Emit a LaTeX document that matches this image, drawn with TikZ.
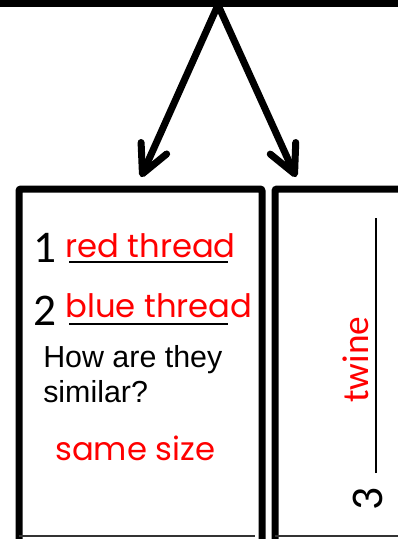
\documentclass[tikz,border=0pt]{standalone}
\usepackage{fontspec}
\usetikzlibrary{arrows.meta}
\newfontfamily\comicf{Poppins}
\newfontfamily\arialf{Liberation Sans}
\newfontfamily\calf{Carlito}
\definecolor{penred}{RGB}{255,0,0}
\tikzset{
  thickline/.style={line width=5.25pt, line cap=round, line join=round},
  arrowline/.style={thickline, -{Straight Barb[length=21pt,width=21pt,round]}},
  panel/.style={draw, line width=5.25pt, rounded corners=1.5pt, inner sep=0pt, anchor=north west, minimum height=300pt},
  digit/.style={font=\calf\fontsize{34}{40}\selectfont, inner sep=0pt, anchor=base west},
  answer/.style={font=\comicf\fontsize{24.2}{28}\selectfont, text=penred, inner sep=0pt, anchor=base west},
  question/.style={font=\arialf\fontsize{22.8}{26}\selectfont, inner sep=0pt, anchor=base west},
  blank/.style={line width=1.1pt},
  bottomedge/.style={line width=0.8pt, draw=black!80}
}
\begin{document}
\begin{tikzpicture}[x=0.75pt,y=-0.75pt]
\useasboundingbox (0,0) rectangle (398,539);
\clip (0,0) rectangle (398,539);
% top bar
\coordinate (barL) at (-10,3.5);
\coordinate (barR) at (410,3.5);
\coordinate (apex) at (218,5);
\draw[line width=5.25pt] (barL) -- (barR);
% panels
\node[panel, minimum width=182.25pt] (lbox) at (15.5,185.5) {};
\node[panel, minimum width=150pt] (rbox) at (271.5,185.5) {};
\draw[bottomedge] (19,536) -- (255,536);
\draw[bottomedge] (275,536) -- (398,536);
% arrows
\coordinate (ltip) at (141,177);
\coordinate (rtip) at (296,177);
\draw[arrowline] (apex) -- (ltip);
\draw[arrowline] (apex) -- (rtip);
% left panel contents
\node[digit] (n1) at (33,262) {1};
\node[answer] (a1) at (65,257) {red thread};
\coordinate (u1a) at (69,262); \coordinate (u1b) at (228,262);
\draw[blank] (u1a) -- (u1b);
\node[digit] (n2) at (33,325) {2};
\node[answer] (a2) at (65,317) {blue thread};
\coordinate (u2a) at (69,324); \coordinate (u2b) at (228,324);
\draw[blank] (u2a) -- (u2b);
\node[question] (q1) at (43,367) {How are they};
\node[question] (q2) at (43,402) {similar?};
\node[answer] (a3) at (55,460) {same size};
% right panel contents
\node[digit, rotate=90] (n3) at (382,511) {3};
\coordinate (u3a) at (376,473); \coordinate (u3b) at (376,218);
\draw[blank] (u3a) -- (u3b);
\node[digit, rotate=90, text=penred, font=\calf\fontsize{28}{32}\selectfont] (a4) at (368,403) {twine};
\end{tikzpicture}
\end{document}
